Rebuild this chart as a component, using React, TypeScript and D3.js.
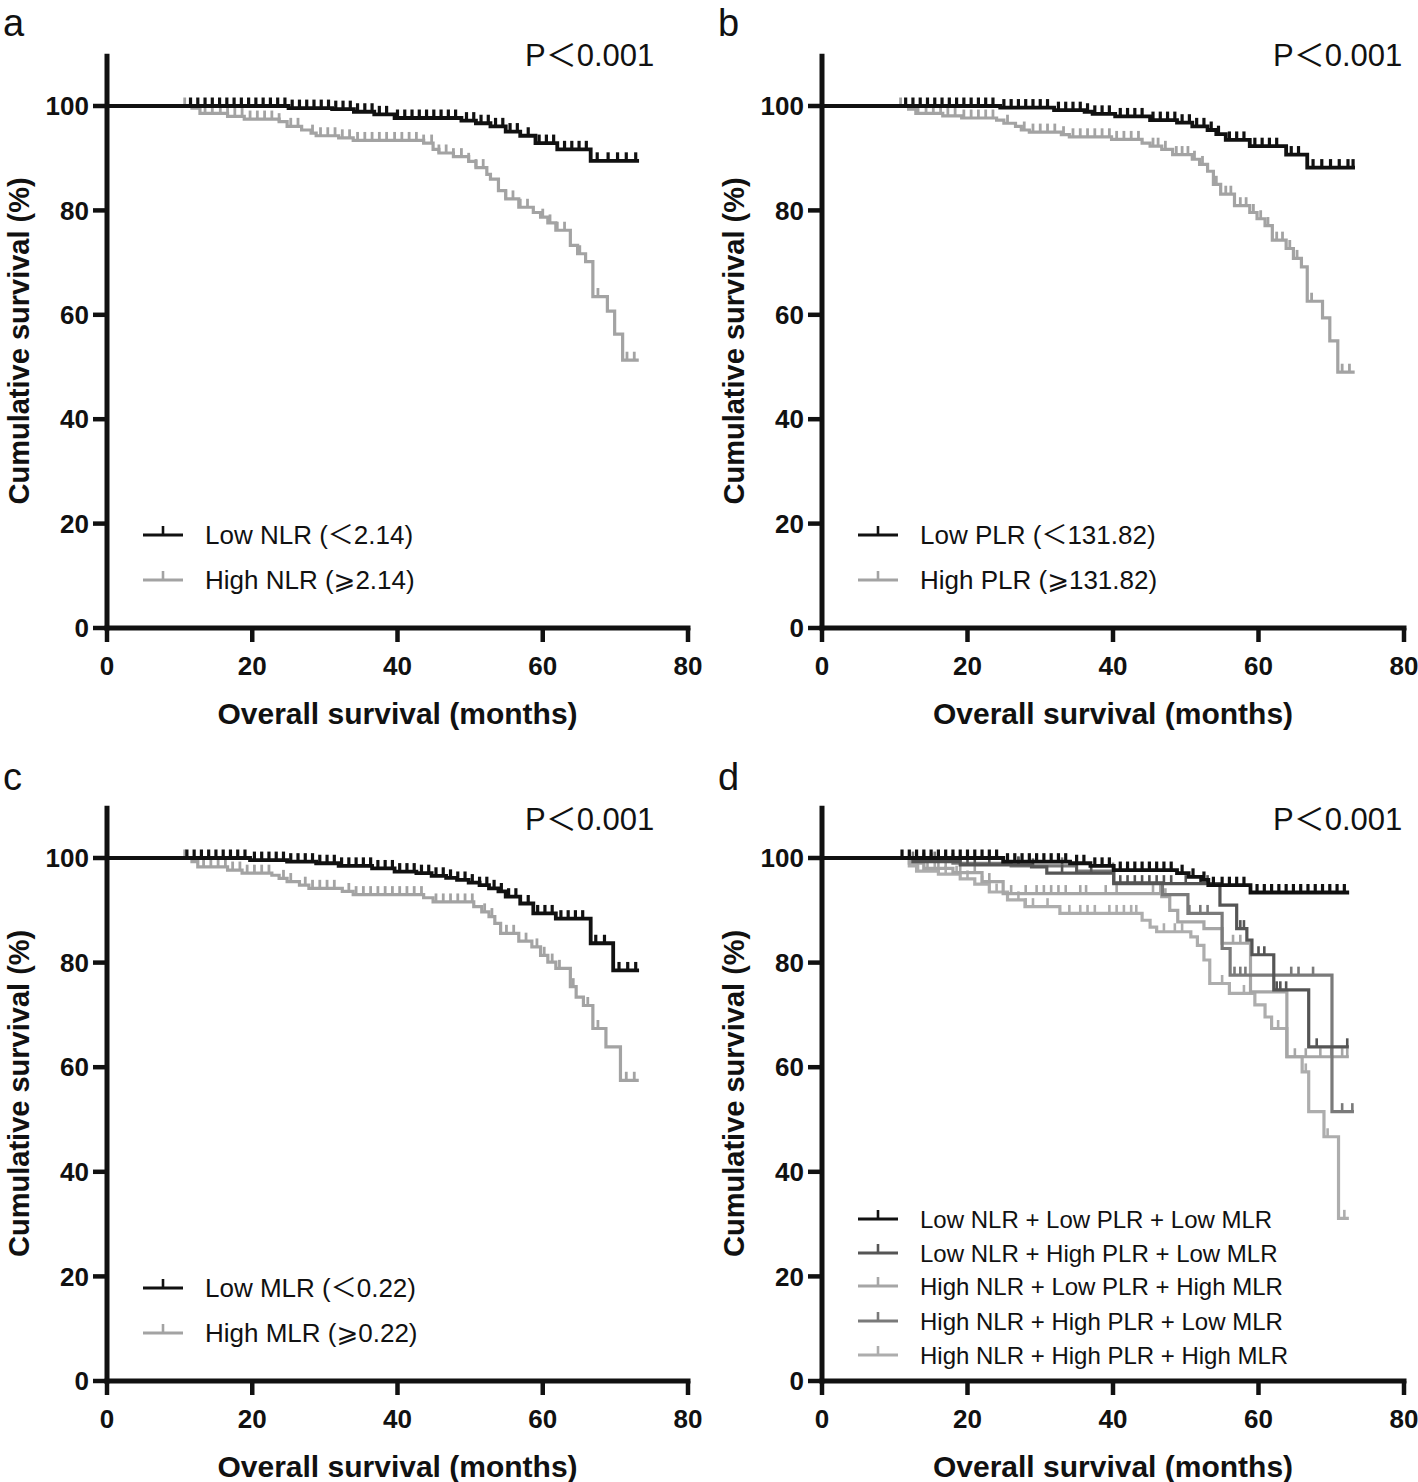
import React from "react";
import * as d3 from "d3";

type Pt = [number, number];

// ---------------- shared axis data ----------------
const xTicks = [0, 20, 40, 60, 80];
const yTicks = [0, 20, 40, 60, 80, 100];
const xTitle = "Overall survival (months)";
const yTitle = "Cumulative survival (%)";
const pText = "P＜0.001";

// ---------------- panel a (NLR) ----------------
const aLowSteps: Pt[] = [[0, 100], [25, 99.6], [31, 99.4], [34, 98.9], [36.8, 98.4], [39.6, 97.7], [48.8, 97.2], [50.8, 96.7], [52.8, 96.1], [54.9, 95.1], [56.9, 94.3], [59, 92.9], [62, 91.7], [66.6, 89.5]];
const aLowEnd = 73;
const aLowCensor = [11.5, 12.5, 13.5, 14.5, 15.5, 16.5, 17.5, 18.5, 19.5, 20.5, 21.5, 22.5, 23.5, 24.5, 25.5, 26.5, 27.5, 28.5, 29.5, 30.5, 31.5, 32.5, 33.5, 34.5, 35.5, 36.5, 37.5, 38.5, 40, 41, 42, 43, 44, 45, 46, 47, 48, 49.5, 50.5, 51.5, 52.5, 53.5, 54.5, 55.5, 56.5, 58, 59.5, 60.5, 61.5, 63, 64, 65, 66, 67.5, 69, 70.3, 71.5, 72.8];
const aHighSteps: Pt[] = [[0, 100], [11.7, 99.6], [12.8, 98.6], [16.6, 98.0], [18.9, 97.5], [23.7, 97.0], [24.8, 96.1], [26.8, 95.4], [28.1, 94.8], [28.8, 94.3], [31.9, 93.9], [33.9, 93.4], [43.6, 92.9], [44.9, 91.7], [45.7, 91.0], [47.7, 90.3], [49.8, 89.4], [50.8, 88.2], [52.3, 86.9], [52.8, 86.0], [53.9, 83.8], [54.9, 82.2], [56.7, 80.6], [58.7, 79.6], [59.7, 78.7], [60.7, 77.6], [61.8, 76.2], [63.8, 73.3], [64.8, 71.7], [65.9, 70.2], [66.9, 63.5], [68.9, 60.7], [69.9, 56.3], [71, 51.3]];
const aHighEnd = 73;
const aHighCensor = [10.7, 13.5, 14.5, 15.6, 16.6, 17.6, 18.6, 19.7, 20.7, 21.7, 22.7, 23.7, 25.3, 26.3, 28.3, 29.4, 30.4, 31.4, 32.4, 33.4, 34.5, 35.5, 36.5, 37.5, 38.5, 39.6, 40.6, 41.6, 42.6, 43.6, 44.7, 45.7, 46.7, 47.7, 48.8, 49.8, 50.8, 51.8, 53.9, 54.9, 55.9, 56.9, 57.9, 60, 61, 62, 63, 65.1, 67.6, 71.6, 72.6];
const aLabels = ["Low NLR (＜2.14)", "High NLR (⩾2.14)"];

// ---------------- panel b (PLR) ----------------
const bLowSteps: Pt[] = [[0, 100], [24.5, 99.7], [31.9, 99.2], [36.1, 98.9], [37.2, 98.5], [40.3, 98.0], [45.1, 97.3], [48.8, 96.8], [50.9, 96.1], [53.0, 95.4], [54.2, 94.6], [55.5, 93.5], [58.8, 92.3], [63.8, 90.7], [66.7, 88.2]];
const bLowEnd = 73;
const bLowCensor = [11.5, 12.5, 13.5, 14.5, 15.5, 16.5, 17.5, 18.5, 19.5, 20.5, 21.5, 22.5, 23.5, 25, 26, 27, 28, 29, 30, 31, 32.5, 33.5, 34.5, 35.5, 36.5, 37.5, 38.5, 39.5, 41, 42, 43, 44, 45.5, 46.5, 47.5, 48.5, 49.5, 50.5, 51.5, 52.5, 53.5, 54.5, 56, 57, 58, 59.5, 60.5, 61.5, 62.5, 64.5, 65.5, 67.5, 68.7, 69.9, 71.1, 72.3, 73];
const bHighSteps: Pt[] = [[0, 100], [11.9, 99.4], [12.9, 98.6], [16.6, 98.1], [19.2, 97.7], [24.0, 97.3], [25.0, 96.7], [26.6, 96.1], [27.4, 95.4], [28.5, 95.0], [32.9, 94.5], [34.0, 94.1], [39.8, 93.6], [44.0, 92.9], [45.1, 92.3], [46.7, 91.7], [48.2, 90.7], [50.9, 89.8], [51.9, 88.8], [53.0, 87.5], [53.8, 85.0], [54.8, 83.1], [56.7, 80.9], [58.8, 79.6], [59.8, 78.4], [60.9, 77.1], [61.9, 74.3], [63.8, 72.7], [64.8, 70.8], [65.9, 69.2], [66.7, 62.6], [68.8, 59.4], [69.8, 55.0], [70.9, 49.0]];
const bHighEnd = 73;
const bHighCensor = [10.8, 13.2, 14.3, 15.3, 16.3, 17.3, 18.3, 19.5, 20.5, 21.5, 22.5, 23.5, 25.5, 27.8, 29, 30, 31, 32, 33.2, 34.5, 35.5, 36.5, 37.5, 38.5, 39.5, 40.5, 41.5, 42.5, 43.5, 45.5, 46.2, 47.2, 48.7, 49.5, 50.3, 51.2, 52.3, 54.2, 55.5, 56.2, 57.5, 58.3, 59.3, 60.3, 61.3, 62.5, 63.3, 64.3, 65.3, 67.3, 71.5, 72.5];
const bLabels = ["Low PLR (＜131.82)", "High PLR (⩾131.82)"];

// ---------------- panel c (MLR) ----------------
const cLowSteps: Pt[] = [[0, 100], [19.7, 99.6], [24.8, 99.3], [28.8, 99.0], [31.9, 98.5], [36.5, 98.0], [39.6, 97.4], [42.6, 97.1], [44.7, 96.6], [46.7, 96.2], [48.2, 95.8], [49.8, 95.3], [51.3, 94.8], [52.6, 94.2], [53.9, 93.6], [54.9, 92.6], [56.9, 91.3], [58.7, 89.4], [61.8, 88.4], [66.6, 83.7], [69.7, 78.5]];
const cLowEnd = 73;
const cLowCensor = [11, 12, 13, 14, 15, 16, 17, 18, 19, 20.3, 21.3, 22.3, 23.3, 24.3, 25.3, 26.3, 27.3, 28.3, 29.3, 30.3, 31.3, 32.3, 33.3, 34.3, 35.3, 36.3, 37.3, 38.3, 39.3, 40.3, 41.3, 42.3, 43.3, 44.3, 45.3, 46.3, 47.3, 48.3, 49.3, 50.3, 51.3, 52.3, 53.3, 54.3, 55.3, 56.3, 58, 59.3, 60.3, 61.3, 62.5, 63.5, 64.5, 65.5, 67.3, 68.5, 70.5, 71.7, 72.8];
const cHighSteps: Pt[] = [[0, 100], [11.7, 99.3], [12.5, 98.3], [16.6, 97.7], [18.6, 97.1], [22.7, 96.7], [23.7, 96.1], [24.8, 95.5], [26.5, 94.8], [27.8, 94.2], [32.4, 93.6], [33.9, 93.0], [43.6, 92.4], [44.9, 91.6], [50.5, 90.7], [51.6, 89.7], [52.6, 88.8], [53.4, 87.5], [54.2, 85.6], [56.7, 84.1], [58.5, 83.0], [59.7, 81.4], [60.7, 80.1], [61.8, 78.9], [63.8, 75.4], [64.6, 73.4], [65.6, 71.8], [66.9, 67.4], [68.7, 63.9], [70.7, 57.5]];
const cHighEnd = 73;
const cHighCensor = [10.7, 13.3, 14.3, 15.3, 16.3, 17.3, 18.3, 19.3, 20.3, 21.3, 22.3, 24.3, 25.3, 27.3, 28.3, 29.3, 30.3, 31.3, 33.3, 34.3, 35.3, 36.3, 37.3, 38.3, 39.3, 40.3, 41.3, 42.3, 43.3, 45.3, 46.3, 47.3, 48.3, 49.3, 50.3, 52, 53, 55, 56, 57.7, 59.2, 60.2, 61.3, 62.3, 64.2, 66.2, 67.6, 71.5, 72.6];
const cLabels = ["Low MLR (＜0.22)", "High MLR (⩾0.22)"];

// ---------------- panel d (combined) ----------------
const dS1Steps: Pt[] = [[0, 100], [24.9, 99.3], [34.1, 99.0], [36.9, 98.5], [40.1, 97.7], [48.8, 97.1], [50.4, 96.4], [52.2, 95.8], [53.1, 94.8], [58.9, 93.4]];
const dS1End = 72.2;
const dS1Censor = [11, 12, 13, 14, 15, 16, 17, 18, 19, 20, 21, 22, 23, 24, 25.5, 26.5, 27.5, 28.5, 29.5, 30.5, 31.5, 32.5, 33.5, 35, 36, 37.5, 38.5, 39.5, 41, 42, 43, 44, 45, 46, 47, 48, 49.5, 51, 52.5, 53.8, 55, 56, 57, 58, 59.8, 60.8, 61.8, 62.8, 63.8, 64.8, 65.8, 66.8, 67.8, 68.8, 69.8, 70.8, 71.8];
const dS2Steps: Pt[] = [[0, 100], [12.5, 99.3], [19, 98.7], [28.8, 98.3], [30.9, 97.1], [40.1, 95.1], [54.7, 91.0], [57.0, 86.5], [58.4, 84.3], [59.1, 81.5], [62.1, 74.8], [66.9, 63.9]];
const dS2End = 72.2;
const dS2Censor = [13, 14, 15, 16, 17, 18, 20, 21, 23, 25, 27, 29, 33, 35, 37, 41, 42, 43, 44, 45, 46, 47, 48, 50, 52, 53, 57.5, 58, 60, 60.8, 62.5, 63, 63.8, 68, 72.2];
const dS3Steps: Pt[] = [[0, 100], [12, 99.0], [14, 98.0], [18, 97.2], [22, 95.5], [24.9, 93.2], [46.7, 92.6], [47.8, 90.0], [48.9, 87.8], [52.5, 86.5], [55.0, 83.7], [58.9, 74.4], [63.9, 62.0]];
const dS3End = 72.2;
const dS3Censor = [12, 13, 14.5, 16, 17, 19, 21, 23, 26, 28, 29.5, 30.5, 31.5, 32.5, 33.5, 35.5, 36.3, 39, 40.5, 45.5, 46.5, 47.2, 56.5, 57.5, 65, 66.5, 68.5, 70, 71.5, 72.2];
const dS4Steps: Pt[] = [[0, 100], [12.5, 99.6], [18, 99.0], [26, 98.5], [35, 97.5], [40.1, 95.3], [46.8, 93.0], [50.3, 89.4], [55.0, 82.7], [56.1, 77.6], [70.1, 51.5]];
const dS4End = 72.9;
const dS4Censor = [12.5, 14, 15.5, 19, 27, 33, 40, 50.5, 52, 53, 56.7, 57.5, 58.2, 64.5, 65.5, 67.5, 71.5, 72.9];
const dS5Steps: Pt[] = [[0, 100], [12, 98.5], [13, 97.5], [16, 96.9], [19, 96.0], [21, 95.0], [23, 93.5], [25.5, 92.0], [27.9, 90.7], [32.7, 89.4], [44.0, 88.1], [45.1, 86.8], [46.0, 85.9], [50.7, 84.9], [51.6, 83.3], [52.5, 80.5], [53.3, 76.0], [56.0, 74.1], [59.5, 71.9], [60.9, 69.6], [61.8, 67.4], [63.9, 62.0], [66.0, 59.1], [66.9, 51.5], [69.0, 46.7], [71.0, 31.1]];
const dS5End = 72.2;
const dS5Censor = [12, 13.2, 14, 15.5, 17, 18.5, 20, 22, 24, 27, 28, 29, 31, 34, 35.5, 36.5, 37.5, 39.5, 40.5, 41.5, 42.5, 43.2, 47, 48.5, 49.5, 55, 58, 62.7, 66.5, 69.5, 71.8];
const dLabels = [
  "Low NLR + Low PLR + Low MLR",
  "Low NLR + High PLR + Low MLR",
  "High NLR + Low PLR + High MLR",
  "High NLR + High PLR + Low MLR",
  "High NLR + High PLR + High MLR",
];

// ---------------- styling ----------------
const SANS = "'Liberation Sans', Arial, Helvetica, sans-serif";
const SANS_SYM = "'Liberation Sans', Arial, 'DejaVu Sans', 'Noto Sans CJK SC', sans-serif";
const INK = "#111111";
const BLACK = "#111111";
const GREY = "#a3a3a3";
const D_COLORS = ["#111111", "#555555", "#a6a6a6", "#7a7a7a", "#adadad"];

interface Series {
  steps: Pt[];
  end: number;
  censor: number[];
  color: string;
  width: number;
  tick: number;
}

interface PanelProps {
  letter: string;
  xr: [number, number];
  yr: [number, number];
  series: Series[]; // draw order
  legend: { label: string; color: string }[];
  legendRows: number[]; // offsets from y(0)
  legendFont: number;
  pX: number;
  pY: number;
  letterY: number;
}

function survAt(steps: Pt[], t: number): number {
  let s = steps[0][1];
  for (const [tt, v] of steps) if (tt <= t) s = v;
  return s;
}

function Panel(p: PanelProps) {
  const x = d3.scaleLinear().domain([0, 80]).range(p.xr);
  const y = d3.scaleLinear().domain([0, 100]).range(p.yr);
  const x0 = x(0);
  const y0 = y(0);
  const yTop = y(110);
  const line = d3
    .line<Pt>()
    .x((d) => x(d[0]))
    .y((d) => y(d[1]))
    .curve(d3.curveStepAfter);
  const legendX = x0 + 36;
  const letterX = x0 - 104;

  return (
    <g>
      <text x={letterX} y={p.letterY} fontFamily={SANS} fontSize={38} fill={INK}>
        {p.letter}
      </text>
      <text x={p.pX} y={p.pY} fontFamily={SANS_SYM} fontSize={31} fill={INK}>
        {pText}
      </text>

      {/* curves */}
      {p.series.map((s, i) => {
        const pts: Pt[] = [...s.steps, [s.end, s.steps[s.steps.length - 1][1]]];
        return (
          <g key={i}>
            <path d={line(pts) || ""} fill="none" stroke={s.color} strokeWidth={s.width} strokeLinejoin="miter" strokeLinecap="square" />
            {s.censor.map((t, j) => {
              const cx = x(t);
              const cy = y(survAt(s.steps, t));
              return <line key={j} x1={cx} x2={cx} y1={cy} y2={cy - 8.5} stroke={s.color} strokeWidth={s.tick} />;
            })}
          </g>
        );
      })}

      {/* axes */}
      <line x1={x0} x2={x0} y1={yTop} y2={y0 + 2.5} stroke={INK} strokeWidth={5} />
      <line x1={x0 - 2.5} x2={x(80) + 2.5} y1={y0} y2={y0} stroke={INK} strokeWidth={5} />
      {yTicks.map((t) => (
        <g key={"y" + t}>
          <line x1={x0 - 14} x2={x0} y1={y(t)} y2={y(t)} stroke={INK} strokeWidth={4.5} />
          <text x={x0 - 18} y={y(t)} dy="0.35em" textAnchor="end" fontFamily={SANS} fontWeight="bold" fontSize={26} fill={INK}>
            {t}
          </text>
        </g>
      ))}
      {xTicks.map((t) => (
        <g key={"x" + t}>
          <line x1={x(t)} x2={x(t)} y1={y0} y2={y0 + 14} stroke={INK} strokeWidth={4.5} />
          <text x={x(t)} y={y0 + 47} textAnchor="middle" fontFamily={SANS} fontWeight="bold" fontSize={26} fill={INK}>
            {t}
          </text>
        </g>
      ))}
      <text x={(x0 + x(80)) / 2} y={y0 + 96} textAnchor="middle" fontFamily={SANS} fontWeight="bold" fontSize={30} fill={INK}>
        {xTitle}
      </text>
      <text
        transform={`translate(${x0 - 78},${(y0 + yTop) / 2}) rotate(-90)`}
        textAnchor="middle"
        fontFamily={SANS}
        fontWeight="bold"
        fontSize={29}
        fill={INK}
      >
        {yTitle}
      </text>

      {/* legend */}
      {p.legend.map((l, i) => {
        const ly = y0 + p.legendRows[i];
        return (
          <g key={"l" + i}>
            <line x1={legendX} x2={legendX + 40} y1={ly} y2={ly} stroke={l.color} strokeWidth={3.2} />
            <line x1={legendX + 20} x2={legendX + 20} y1={ly} y2={ly - 9} stroke={l.color} strokeWidth={2.6} />
            <text x={legendX + 62} y={ly} dy="0.36em" fontFamily={SANS_SYM} fontSize={p.legendFont} fill={INK}>
              {l.label}
            </text>
          </g>
        );
      })}
    </g>
  );
}

export default function App() {
  const rows2 = [-93, -48];
  const rows5 = [-162, -128, -95, -60, -26];
  return (
    <svg
      width={1418}
      height={1482}
      viewBox="0 0 1418 1482"
      style={{ position: "absolute", left: 0, top: 0, background: "#fff" }}
    >
      <rect x={0} y={0} width={1418} height={1482} fill="#fff" />
      <Panel
        letter="a"
        xr={[107, 688]}
        yr={[628, 106]}
        series={[
          { steps: aHighSteps, end: aHighEnd, censor: aHighCensor, color: GREY, width: 3.2, tick: 2.8 },
          { steps: aLowSteps, end: aLowEnd, censor: aLowCensor, color: BLACK, width: 3.8, tick: 3.2 },
        ]}
        legend={[
          { label: aLabels[0], color: BLACK },
          { label: aLabels[1], color: GREY },
        ]}
        legendRows={rows2}
        legendFont={26}
        pX={525}
        pY={66}
        letterY={36}
      />
      <Panel
        letter="b"
        xr={[822, 1404]}
        yr={[628, 106]}
        series={[
          { steps: bHighSteps, end: bHighEnd, censor: bHighCensor, color: GREY, width: 3.2, tick: 2.8 },
          { steps: bLowSteps, end: bLowEnd, censor: bLowCensor, color: BLACK, width: 3.8, tick: 3.2 },
        ]}
        legend={[
          { label: bLabels[0], color: BLACK },
          { label: bLabels[1], color: GREY },
        ]}
        legendRows={rows2}
        legendFont={26}
        pX={1273}
        pY={66}
        letterY={36}
      />
      <Panel
        letter="c"
        xr={[107, 688]}
        yr={[1381, 858]}
        series={[
          { steps: cHighSteps, end: cHighEnd, censor: cHighCensor, color: GREY, width: 3.2, tick: 2.8 },
          { steps: cLowSteps, end: cLowEnd, censor: cLowCensor, color: BLACK, width: 3.8, tick: 3.2 },
        ]}
        legend={[
          { label: cLabels[0], color: BLACK },
          { label: cLabels[1], color: GREY },
        ]}
        legendRows={rows2}
        legendFont={26}
        pX={525}
        pY={830}
        letterY={790}
      />
      <Panel
        letter="d"
        xr={[822, 1404]}
        yr={[1381, 858]}
        series={[
          { steps: dS5Steps, end: dS5End, censor: dS5Censor, color: D_COLORS[4], width: 3.2, tick: 2.6 },
          { steps: dS3Steps, end: dS3End, censor: dS3Censor, color: D_COLORS[2], width: 3.2, tick: 2.6 },
          { steps: dS4Steps, end: dS4End, censor: dS4Censor, color: D_COLORS[3], width: 3.2, tick: 2.6 },
          { steps: dS2Steps, end: dS2End, censor: dS2Censor, color: D_COLORS[1], width: 3.2, tick: 2.6 },
          { steps: dS1Steps, end: dS1End, censor: dS1Censor, color: D_COLORS[0], width: 3.8, tick: 3.2 },
        ]}
        legend={dLabels.map((label, i) => ({ label, color: D_COLORS[i] }))}
        legendRows={rows5}
        legendFont={24}
        pX={1273}
        pY={830}
        letterY={790}
      />
    </svg>
  );
}
